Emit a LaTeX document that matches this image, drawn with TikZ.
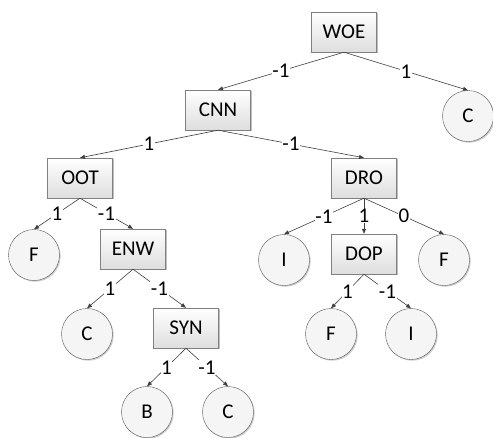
\documentclass[tikz,border=0pt]{standalone}
\usepackage{fontspec}
\setmainfont{Carlito}
\usetikzlibrary{arrows.meta,shadows}

\tikzset{
  box/.style={draw=black!50,top color=white,bottom color=black!13,
    minimum width=65pt,minimum height=40pt,inner sep=2pt,
    drop shadow={shadow xshift=1.2pt,shadow yshift=-1.2pt,fill=black,opacity=0.25}},
  leaf/.style={circle,draw=black!65,fill=black!4,minimum size=51pt,inner sep=0pt,
    drop shadow={shadow xshift=1.2pt,shadow yshift=-1.2pt,fill=black,opacity=0.2}},
  edge/.style={draw=black!75,line width=0.6pt,-{Triangle[length=5pt,width=4pt]}},
  lbl/.style={fill=white,inner sep=0.5pt,midway}
}

\begin{document}
\begin{tikzpicture}[x=1pt,y=-1pt,font=\fontsize{21}{24}\selectfont]
      \useasboundingbox (0,0) rectangle (493,437);
      \node[box] (woe) at (344,32) {WOE};
      \node[leaf] (c1) at (468,116) {C};
      \node[box] (cnn) at (218,110) {CNN};
      \node[box] (oot) at (80,178) {OOT};
      \node[box] (dro) at (364,178) {DRO};
      \node[leaf] (f1) at (34,255) {F};
      \node[box] (enw) at (133,249) {ENW};
      \node[leaf] (c2) at (87,334) {C};
      \node[box] (syn) at (186,328) {SYN};
      \node[leaf] (b) at (147,412) {B};
      \node[leaf] (c3) at (228,412) {C};
      \node[leaf] (i1) at (284,260) {I};
      \node[box] (dop) at (364,254) {DOP};
      \node[leaf] (f2) at (444,260) {F};
      \node[leaf] (f3) at (331,334) {F};
      \node[leaf] (i2) at (411,334) {I};
      \draw[edge] (woe.south) -- node[lbl]{-1} (cnn.north);
      \draw[edge] (woe.south) -- node[lbl]{1} (c1.north);
      \draw[edge] (cnn.south) -- node[lbl]{1} (oot.north);
      \draw[edge] (cnn.south) -- node[lbl]{-1} (dro.north);
      \draw[edge] (oot.south) -- node[lbl]{1} (f1.north);
      \draw[edge] (oot.south) -- node[lbl]{-1} (enw.north);
      \draw[edge] (enw.south) -- node[lbl]{1} (c2.north);
      \draw[edge] (enw.south) -- node[lbl]{-1} (syn.north);
      \draw[edge] (syn.south) -- node[lbl]{1} (b.north);
      \draw[edge] (syn.south) -- node[lbl]{-1} (c3.north);
      \draw[edge] (dro.south) -- node[lbl]{-1} (i1.north);
      \draw[edge] (dro.south) -- node[lbl]{1} (dop.north);
      \draw[edge] (dro.south) -- node[lbl]{0} (f2.north);
      \draw[edge] (dop.south) -- node[lbl]{1} (f3.north);
      \draw[edge] (dop.south) -- node[lbl]{-1} (i2.north);
    \end{tikzpicture}
\end{document}
